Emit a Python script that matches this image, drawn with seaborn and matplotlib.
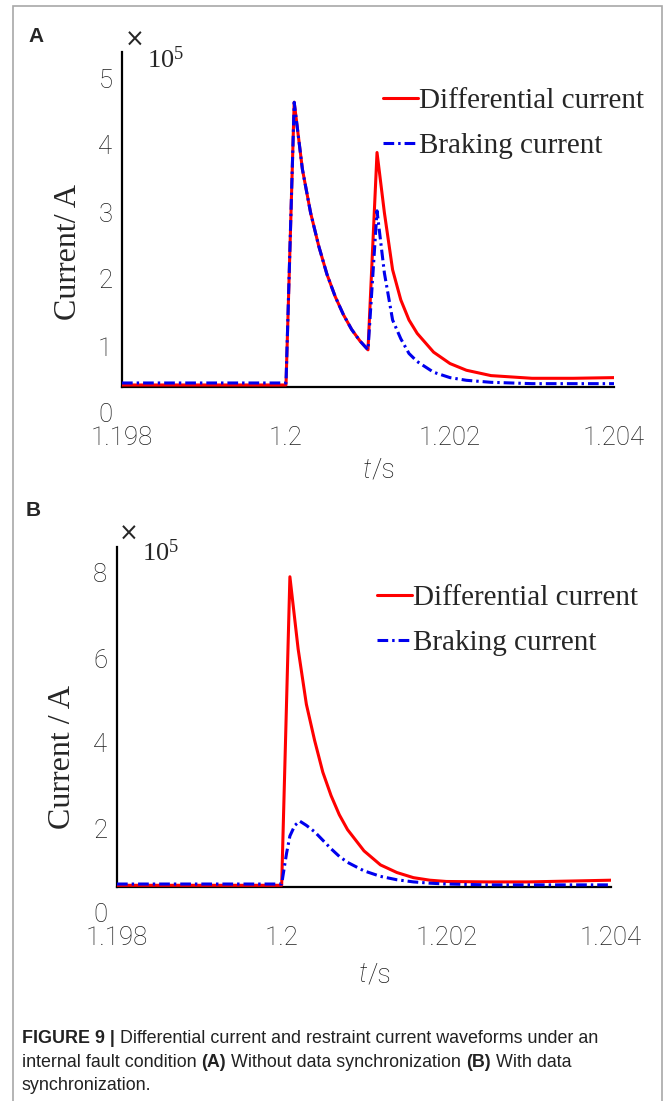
import matplotlib
matplotlib.use("Agg")
import matplotlib.pyplot as plt
import seaborn as sns
from matplotlib.transforms import ScaledTranslation
from matplotlib.patches import Rectangle

# values, current in units of 1e5 A
# (A) without data synchronization
t_diff_a = [1.198, 1.2, 1.2001, 1.2002, 1.2003, 1.2004, 1.2005, 1.2006, 1.2007, 1.2008,
            1.2009, 1.2010, 1.20111, 1.2012, 1.2013, 1.2014, 1.2015, 1.2016, 1.2018,
            1.2020, 1.2022, 1.2025, 1.2030, 1.2035, 1.2040]
i_diff_a = [0.03, 0.03, 4.25, 3.25, 2.6, 2.1, 1.68, 1.35, 1.08, 0.86,
            0.69, 0.555, 3.5, 2.6, 1.75, 1.3, 1.0, 0.8, 0.52,
            0.35, 0.25, 0.17, 0.13, 0.13, 0.14]
t_brk_a = [1.198, 1.2, 1.2001, 1.2002, 1.2003, 1.2004, 1.2005, 1.2006, 1.2007, 1.2008,
           1.2009, 1.2010, 1.20111, 1.2012, 1.2013, 1.2014, 1.2015, 1.2016, 1.2018,
           1.2020, 1.2022, 1.2025, 1.2030, 1.2040]
i_brk_a = [0.06, 0.06, 4.25, 3.25, 2.6, 2.1, 1.68, 1.35, 1.08, 0.86,
           0.69, 0.555, 2.63, 1.7, 1.0, 0.72, 0.5, 0.38, 0.22,
           0.14, 0.1, 0.07, 0.05, 0.05]

# (B) with data synchronization
t_diff_b = [1.198, 1.2, 1.2001, 1.2002, 1.2003, 1.2004, 1.2005, 1.2006, 1.2007, 1.2008,
            1.2010, 1.2012, 1.2014, 1.2016, 1.2018, 1.2020, 1.2025, 1.2030, 1.2035, 1.2040]
i_diff_b = [0.04, 0.04, 7.3, 5.6, 4.3, 3.45, 2.7, 2.15, 1.7, 1.35,
            0.85, 0.52, 0.34, 0.22, 0.16, 0.13, 0.12, 0.12, 0.14, 0.16]
t_brk_b = [1.198, 1.2, 1.20006, 1.2001, 1.20016, 1.20022, 1.2003, 1.2004, 1.2005, 1.2006,
           1.2007, 1.2008, 1.2010, 1.2012, 1.2014, 1.2016, 1.2018, 1.2020, 1.2025, 1.2030, 1.2040]
i_brk_b = [0.07, 0.07, 0.8, 1.2, 1.45, 1.55, 1.45, 1.3, 1.1, 0.9,
           0.72, 0.58, 0.38, 0.25, 0.17, 0.12, 0.09, 0.07, 0.05, 0.05, 0.05]

x_ticks = [1.198, 1.2, 1.202, 1.204]
x_labels = ["1.198", "1.2", "1.202", "1.204"]
legend_labels = ["Differential current", "Braking current"]

W, H = 665, 1101
sns.set_style("white")
fig = plt.figure(figsize=(W / 100, H / 100), dpi=100)

tick_font = dict(family="Roboto", weight="light", color="#1e1e1e", size=18.5)
serif = "Liberation Serif"


def add_panel(box, t1, y1, t2, y2, yticks, letter, ylabel, ylab_xy, xlab_xy, times_xy, pow_xy, leg_xy):
    l, t, r, b = box
    ax = fig.add_axes([l / W, 1 - b / H, (r - l) / W, (b - t) / H])
    sns.lineplot(x=t1, y=y1, ax=ax, color="#ff0000", lw=2.2, label=legend_labels[0], zorder=3)
    sns.lineplot(x=t2, y=y2, ax=ax, color="#0000ee", lw=2.2, label=legend_labels[1], zorder=4,
                 linestyle=(0, (3.5, 1.3, 0.8, 1.3)))
    ax.set_xlim(1.198, 1.204)
    ax.set_ylim(0, yticks[-1])
    for s in ["top", "right"]:
        ax.spines[s].set_visible(False)
    for s in ["left", "bottom"]:
        ax.spines[s].set_linewidth(1.6)
        ax.spines[s].set_color("black")
    ax.set_xticks(x_ticks)
    ax.set_xticklabels(x_labels, fontdict=tick_font)
    ax.set_yticks(yticks)
    ax.set_yticklabels([str(v) for v in yticks], fontdict=tick_font)
    ax.tick_params(axis="x", direction="in", length=4, width=1.2, pad=28)
    ax.tick_params(axis="y", direction="in", length=4, width=1.2, pad=7)
    ax.set_xlabel("")
    ax.set_ylabel("")
    # tick labels sit lower than their ticks in the original
    shift = ScaledTranslation(0, -0.26, fig.dpi_scale_trans)
    for lbl in ax.get_yticklabels():
        lbl.set_transform(lbl.get_transform() + shift)

    ax.legend(loc="upper left", bbox_to_anchor=(leg_xy[0] / W, 1 - leg_xy[1] / H),
              bbox_transform=fig.transFigure, frameon=False, borderpad=0, borderaxespad=0,
              handlelength=1.2, handletextpad=0.05, labelspacing=0.62,
              prop=dict(family=serif, size=21))

    fig.text(letter[0] / W, 1 - letter[1] / H, letter[2], fontsize=15, fontweight="bold",
             family="Liberation Sans", ha="center", va="center")
    fig.text(ylab_xy[0] / W, 1 - ylab_xy[1] / H, ylabel, rotation=90, family=serif,
             fontsize=23, ha="center", va="center")
    fig.text(xlab_xy[0] / W, 1 - xlab_xy[1] / H, "t", style="italic", family="Roboto",
             weight="light", fontsize=19.5, color="#1e1e1e", ha="right", va="center")
    fig.text(xlab_xy[0] / W, 1 - xlab_xy[1] / H, "/s", family="Roboto",
             weight="light", fontsize=19.5, color="#1e1e1e", ha="left", va="center")
    fig.text(times_xy[0] / W, 1 - times_xy[1] / H, "\u00d7", family="DejaVu Sans",
             fontsize=17, ha="center", va="center")
    fig.text(pow_xy[0] / W, 1 - pow_xy[1] / H, r"$\mathregular{10^5}$", family=serif,
             fontsize=19, ha="left", va="center")
    return ax


add_panel((122, 52, 614, 387), t_diff_a, i_diff_a, t_brk_a, i_brk_a, [0, 1, 2, 3, 4, 5],
          (36, 37, "A"), "Current/ A", (68, 252), (371, 470), (135, 40), (147, 60), (383, 88))
add_panel((117, 547, 611, 887), t_diff_b, i_diff_b, t_brk_b, i_brk_b, [0, 2, 4, 6, 8],
          (33, 510, "B"), "Current / A", (62, 757), (367, 975), (129, 534), (142, 553), (377, 585))

# grey frame round the figure
fig.add_artist(Rectangle((13 / W, -0.01), (662 - 13) / W, 1 - 6 / H + 0.01,
                         transform=fig.transFigure, fill=False, edgecolor="#a8a8a8", lw=1.2))

# caption with bold pieces
renderer = fig.canvas.get_renderer()
cap_lines = [
    [("FIGURE 9 |", True), (" Differential current and restraint current waveforms under an", False)],
    [("internal fault condition ", False), ("(A)", True), (" Without data synchronization ", False),
     ("(B)", True), (" With data", False)],
    [("synchronization.", False)],
]
cap_y = [1043, 1067, 1090]
for parts, yy in zip(cap_lines, cap_y):
    xx = 22
    for txt, bold in parts:
        tt = fig.text(xx / W, 1 - yy / H, txt, fontsize=12.9, family="Liberation Sans",
                      fontweight="bold" if bold else "normal", color="#222222",
                      ha="left", va="baseline")
        xx += tt.get_window_extent(renderer=renderer).width

fig.savefig("out.png", dpi=100)
